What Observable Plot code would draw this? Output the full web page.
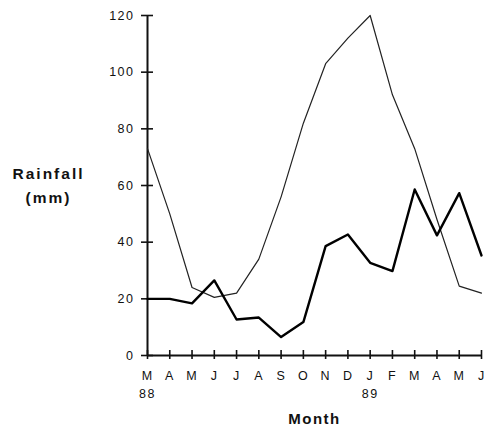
<!DOCTYPE html>
<html><head><meta charset="utf-8">
<script src="https://cdn.jsdelivr.net/npm/d3@7"></script>
<script src="https://cdn.jsdelivr.net/npm/@observablehq/plot@0.6"></script>
<style>body{margin:0;background:#fff}</style>
</head><body><div id="chart"></div>
<script>
const months = ["M","A","M","J","J","A","S","O","N","D","J","F","M","A","M","J"];
const yearLabels = [{i: 0, t: "88"}, {i: 10, t: "89"}];
const thinSeries = [73, 50, 24, 20.5, 22, 34, 56, 82, 103, 112, 120, 92, 73, 48, 24.5, 22];
const thickSeries = [20, 20, 18.4, 26.5, 12.7, 13.4, 6.5, 11.8, 38.6, 42.7, 32.7, 29.8, 58.6, 42.4, 57.3, 35.3];
const yTicks = [0, 20, 40, 60, 80, 100, 120];

const thin = thinSeries.map((v, i) => ({i, v}));
const thick = thickSeries.map((v, i) => ({i, v}));
const idx = months.map((m, i) => i);

const font = "'Liberation Sans', Arial, Helvetica, sans-serif";
const chart = Plot.plot({
  width: 484, height: 426,
  marginLeft: 147, marginRight: 3, marginTop: 15, marginBottom: 71,
  style: {fontFamily: font, fontSize: "11px", color: "#111", background: "#fff"},
  x: {type: "linear", domain: [0, 15]},
  y: {domain: [0, 120]},
  marks: [
    Plot.axisY(yTicks, {tickSize: -6, tickPadding: 19, strokeWidth: 1.6, fontSize: 12.5, label: null, className: "ytl"}),
    Plot.axisY(yTicks, {tickSize: 6, tickFormat: () => "", strokeWidth: 1.6, label: null}),
    Plot.ruleX([0], {y1: 0, y2: 120, strokeWidth: 2}),
    Plot.axisX(idx, {tickSize: 4, tickPadding: 12, tickFormat: i => months[i], fontSize: 12.5, strokeWidth: 1.6,
      label: "Month", labelAnchor: "center", labelArrow: "none", labelOffset: 68, className: "xtl"}),
    Plot.axisX(idx, {tickSize: -5, tickFormat: () => "", strokeWidth: 1.6, label: null}),
    Plot.ruleY([0], {strokeWidth: 2}),
    Plot.text(yearLabels, {x: "i", text: "t", frameAnchor: "bottom", dy: 42, fontSize: 12.5, className: "spaced"}),
    Plot.text(["Rainfall\n(mm)"], {frameAnchor: "left", textAnchor: "middle", dx: -99, dy: -2, fontSize: 15.5, fontWeight: "bold", lineHeight: 1.5, className: "ylabel"}),
    Plot.line(thin, {x: "i", y: "v", stroke: "#222", strokeWidth: 1.2}),
    Plot.line(thick, {x: "i", y: "v", stroke: "#000", strokeWidth: 2.4})
  ]
});
document.getElementById("chart").append(chart);
chart.querySelectorAll("g[aria-label='x-axis label'] text").forEach(t => {
  t.setAttribute("font-weight", "bold"); t.setAttribute("font-size", "15"); t.setAttribute("letter-spacing", "1.5px");
});
chart.querySelectorAll("g[aria-label='y-axis tick label'] text, .ytl text").forEach(t => t.setAttribute("letter-spacing", "1.5px"));
chart.querySelectorAll("g[aria-label='x-axis tick label'] text").forEach(t => t.setAttribute("letter-spacing", "1px"));
chart.querySelectorAll(".spaced text").forEach(t => t.setAttribute("letter-spacing", "1.5px"));
chart.querySelectorAll(".ylabel text").forEach(t => t.setAttribute("letter-spacing", "2px"));
</script>
</body></html>
